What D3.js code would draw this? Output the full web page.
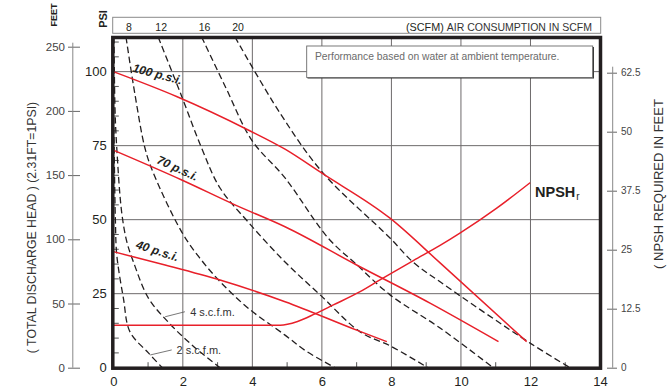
<!DOCTYPE html>
<html><head><meta charset="utf-8">
<script src="https://cdn.jsdelivr.net/npm/d3@7"></script>
<style>
html,body{margin:0;padding:0;background:#fff;}
svg{display:block;font-family:"Liberation Sans",Arial,sans-serif;}
</style></head><body>
<svg id="chart" width="667" height="389"></svg>
<script>
// ---------- data ----------
const flowTicks = [0,2,4,6,8,10,12,14];
const psiTicks = [0,25,50,75,100];
const feetTicks = [0,50,100,150,200,250];
const npshTicks = [0,12.5,25,37.5,50,62.5];
const scfmTopLabels = ["8","12","16","20"];
const pressureLabels = ["100 p.s.i.","70 p.s.i.","40 p.s.i."];
const scfmSideLabels = ["4 s.c.f.m.","2 s.c.f.m."];

// pressure (head) curves: [flow, psi]
const psi100 = [[0,100],[1.82,91.6],[3.88,80.3],[4.94,73.8],[6.0,65.7],[7.96,50.5],[9.4,35.4],[11.89,8.8]];
const psi70  = [[0,73.5],[1.97,63.4],[3.5,55.0],[4.94,47.6],[7.0,34.7],[9.11,21.8],[11.08,8.8]];
const psi40  = [[0,39.2],[1.49,34.7],[3.07,29.6],[4.94,22.3],[7.0,12.7],[7.87,8.8]];
// NPSH required: [flow, feet]
const npshReq = [[0,9],[4.8,9],[5.3,9.8],[5.8,11.4],[6.33,13.3],[7.1,16.1],[7.67,18.6],[8.63,22.7],[9.4,25.9],[9.97,28.5],[11.03,33.8],[11.99,39.2]];
// air consumption curves: [flow, psi]
const scfm2  = [[0.0,111.7],[0.01,90],[0.03,70],[0.06,50],[0.10,38.1],[0.29,23.5],[0.48,12.1],[1.01,5.0],[1.41,0]];
const scfm4  = [[0.02,111.7],[0.05,87],[0.10,74.2],[0.24,52.6],[0.39,42.5],[0.58,35.7],[1.01,23.5],[1.58,15.4],[2.26,7.7],[3.07,0]];
const scfm8  = [[0.365,111.7],[0.62,92.5],[0.91,74.2],[1.14,66.1],[1.97,45.8],[2.49,37.0],[3.07,29.1],[3.88,20.1],[4.94,11.0],[5.56,5.5],[6.38,0]];
const scfm12 = [[1.29,111.7],[1.92,93.1],[2.54,74.2],[3.07,60.7],[3.88,49.2],[4.94,35.7],[5.95,24.6],[7.10,12.1],[7.96,7.4],[9.05,0]];
const scfm16 = [[2.54,111.7],[3.24,94.5],[3.98,76.9],[4.94,64.1],[6.18,43.8],[7.01,34.7],[7.96,24.6],[9.40,13.4],[10.93,0]];
const scfm20 = [[3.50,111.7],[4.80,85.9],[6.03,65.8],[7.96,43.8],[8.62,35.7],[9.40,29.0],[11.99,8.3],[13.14,0]];

// ---------- scales ----------
const L = 113.3, R = 600, T = 37, B = 367.7;
const x = d3.scaleLinear().domain([0,14]).range([L,R]);
const y = d3.scaleLinear().domain([0,111.7]).range([B,T]);
const yFeet = d3.scaleLinear().domain([0,250]).range([B,46.7]);
const yNpsh = d3.scaleLinear().domain([0,62.5]).range([B,72.7]);

const svg = d3.select("#chart");
const ink = "#231f20", red = "#e8202a";

svg.append("defs").append("clipPath").attr("id","plot")
  .append("rect").attr("x",L).attr("y",T).attr("width",R-L).attr("height",B-T);

// grid
const grid = svg.append("g").attr("stroke","#6d6a6b").attr("stroke-width",1);
flowTicks.filter(d=>d>0&&d<14).forEach(d=>{
  grid.append("line").attr("x1",x(d)).attr("x2",x(d)).attr("y1",T).attr("y2",B);
});
psiTicks.filter(d=>d>0).forEach(d=>{
  grid.append("line").attr("x1",L).attr("x2",R).attr("y1",y(d)).attr("y2",y(d));
});

// minor ticks inside plot
const minor = svg.append("g").attr("stroke","#555").attr("stroke-width",1);
d3.range(5,112,5).filter(d=>d%25!==0).forEach(d=>{
  minor.append("line").attr("x1",L).attr("x2",L+5.5).attr("y1",y(d)).attr("y2",y(d));
});
d3.range(1,14,2).forEach(d=>{
  minor.append("line").attr("x1",x(d)).attr("x2",x(d)).attr("y1",B).attr("y2",B-5.5);
});

// note box
const nb = svg.append("g");
nb.append("rect").attr("x",307.5).attr("y",47).attr("width",286.5).attr("height",31.5)
  .attr("fill","#333");
nb.append("rect").attr("x",306.7).attr("y",46).attr("width",286).attr("height",31.5)
  .attr("fill","#fff").attr("stroke","#6a6a6a").attr("stroke-width",0.9);
nb.append("text").attr("x",315).attr("y",59.5).attr("font-size",10.3).attr("fill","#6b6b6b")
  .text("Performance based on water at ambient temperature.");

// curves
const plot = svg.append("g").attr("clip-path","url(#plot)");
const dashLine = d3.line().x(d=>x(d[0])).y(d=>y(d[1])).curve(d3.curveCatmullRom.alpha(0.5));
[scfm2,scfm4,scfm8,scfm12,scfm16,scfm20].forEach(c=>{
  plot.append("path").attr("d",dashLine(c)).attr("fill","none")
    .attr("stroke",ink).attr("stroke-width",1.3).attr("stroke-dasharray","6.5,3.5");
});
const redLine = d3.line().x(d=>x(d[0])).y(d=>y(d[1])).curve(d3.curveMonotoneX);
[psi100,psi70,psi40].forEach(c=>{
  plot.append("path").attr("d",redLine(c)).attr("fill","none").attr("stroke",red).attr("stroke-width",1.5);
});
const npshLine = d3.line().x(d=>x(d[0])).y(d=>yNpsh(d[1])).curve(d3.curveMonotoneX);
plot.append("path").attr("d",npshLine(npshReq)).attr("fill","none").attr("stroke",red).attr("stroke-width",1.5);

// border
svg.append("rect").attr("x",L-0.5).attr("y",T+0.5).attr("width",R-L+1).attr("height",B-T)
  .attr("fill","none").attr("stroke",ink).attr("stroke-width",3.5);

// top PSI / SCFM bar
svg.append("rect").attr("x",112.7).attr("y",17.3).attr("width",488).attr("height",16)
  .attr("fill","#fff").attr("stroke","#8a8a8a").attr("stroke-width",1);
[scfm8,scfm12,scfm16,scfm20].forEach((c,i)=>{
  svg.append("text").attr("x",x(c[0][0])+3).attr("y",30.5).attr("text-anchor","middle")
    .attr("font-size",10.5).attr("fill",ink).text(scfmTopLabels[i]);
});
const bar = svg.append("text").attr("x",592).attr("y",30.5).attr("text-anchor","end").attr("fill",ink);
bar.append("tspan").attr("font-size",10.8).text("(SCFM) ");
bar.append("tspan").attr("font-size",10.5).attr("fill","#333").text("AIR CONSUMPTION IN SCFM");

// axes
function style(g, size, color){
  g.selectAll("text").attr("font-size",size).attr("fill",color).attr("font-family","Liberation Sans, Arial, sans-serif");
  g.selectAll("line").attr("stroke","#666");
}
const fmt = d=>String(d);
const gPsi = svg.append("g").attr("transform",`translate(${L},0)`)
  .call(d3.axisLeft(y).tickValues(psiTicks).tickSize(0).tickPadding(6.5).tickFormat(fmt));
gPsi.select(".domain").remove(); style(gPsi,13,ink);

const gX = svg.append("g").attr("transform",`translate(0,${B})`)
  .call(d3.axisBottom(x).tickValues(flowTicks).tickSize(0).tickPadding(9).tickFormat(fmt));
gX.select(".domain").remove(); style(gX,13,ink);

const gFeet = svg.append("g").attr("transform","translate(80,0)")
  .call(d3.axisLeft(yFeet).tickValues(feetTicks).tickSize(12).tickPadding(3).tickFormat(fmt));
gFeet.select(".domain").remove(); style(gFeet,11.5,"#444");
svg.append("line").attr("x1",72.8).attr("x2",72.8).attr("y1",yFeet(250)-4).attr("y2",yFeet(0))
  .attr("stroke","#888").attr("stroke-width",1);

const gN = svg.append("g").attr("transform","translate(607,0)")
  .call(d3.axisRight(yNpsh).tickValues(npshTicks).tickSize(10).tickPadding(4).tickFormat(fmt));
gN.select(".domain").remove(); style(gN,10,"#444");
svg.append("line").attr("x1",612.7).attr("x2",612.7).attr("y1",yNpsh(62.5)-6).attr("y2",yNpsh(0))
  .attr("stroke","#888").attr("stroke-width",1);

// axis titles
svg.append("text").attr("transform","translate(32,227.5) rotate(-90)").attr("text-anchor","middle")
  .attr("dy","0.35em").attr("font-size",12.3).attr("fill","#333")
  .text("( TOTAL DISCHARGE HEAD )  (2.31FT=1PSI)");
svg.append("text").attr("transform","translate(658.5,184) rotate(-90)").attr("text-anchor","middle")
  .attr("dy","0.35em").attr("font-size",13).attr("fill","#333")
  .text("( NPSH REQUIRED IN FEET");
svg.append("text").attr("transform","translate(53.5,15) rotate(-90)").attr("text-anchor","middle")
  .attr("dy","0.35em").attr("font-size",9).attr("font-weight","bold").attr("fill",ink).text("FEET");
svg.append("text").attr("transform","translate(103,19) rotate(-90)").attr("text-anchor","middle")
  .attr("dy","0.35em").attr("font-size",11).attr("font-weight","bold").attr("fill",ink).text("PSI");

// pressure labels
const pLab = [[1.27,99.2,15],[1.85,67.4,25],[1.27,39.5,18]];
pLab.forEach((p,i)=>{
  svg.append("text").attr("transform",`translate(${x(p[0])},${y(p[1])}) rotate(${p[2]})`)
    .attr("text-anchor","middle").attr("dy","0.35em").attr("font-size",12)
    .attr("font-weight","bold").attr("font-style","italic").attr("fill",ink).text(pressureLabels[i]);
});

// scfm side labels with leaders
const sLab = [{tx:2.21,ty:17.6,lx1:2.06,ly1:18.9,lx2:1.49,ly2:17.2},
              {tx:1.82,ty:4.7,lx1:1.68,ly1:6.0,lx2:1.06,ly2:4.3}];
sLab.forEach((s,i)=>{
  svg.append("line").attr("x1",x(s.lx1)).attr("y1",y(s.ly1)).attr("x2",x(s.lx2)).attr("y2",y(s.ly2))
    .attr("stroke","#555").attr("stroke-width",0.8);
  svg.append("text").attr("x",x(s.tx)).attr("y",y(s.ty)).attr("font-size",11).attr("fill","#333").text(scfmSideLabels[i]);
});

// NPSHr label
const nl = svg.append("text").attr("x",x(12.13)).attr("y",yNpsh(36.2)).attr("font-weight","bold")
  .attr("fill",ink).attr("font-size",14.5);
nl.append("tspan").text("NPSH");
nl.append("tspan").attr("font-size",10).attr("font-weight","normal").attr("dy",3).attr("dx",1).text("r");
</script>
</body></html>
